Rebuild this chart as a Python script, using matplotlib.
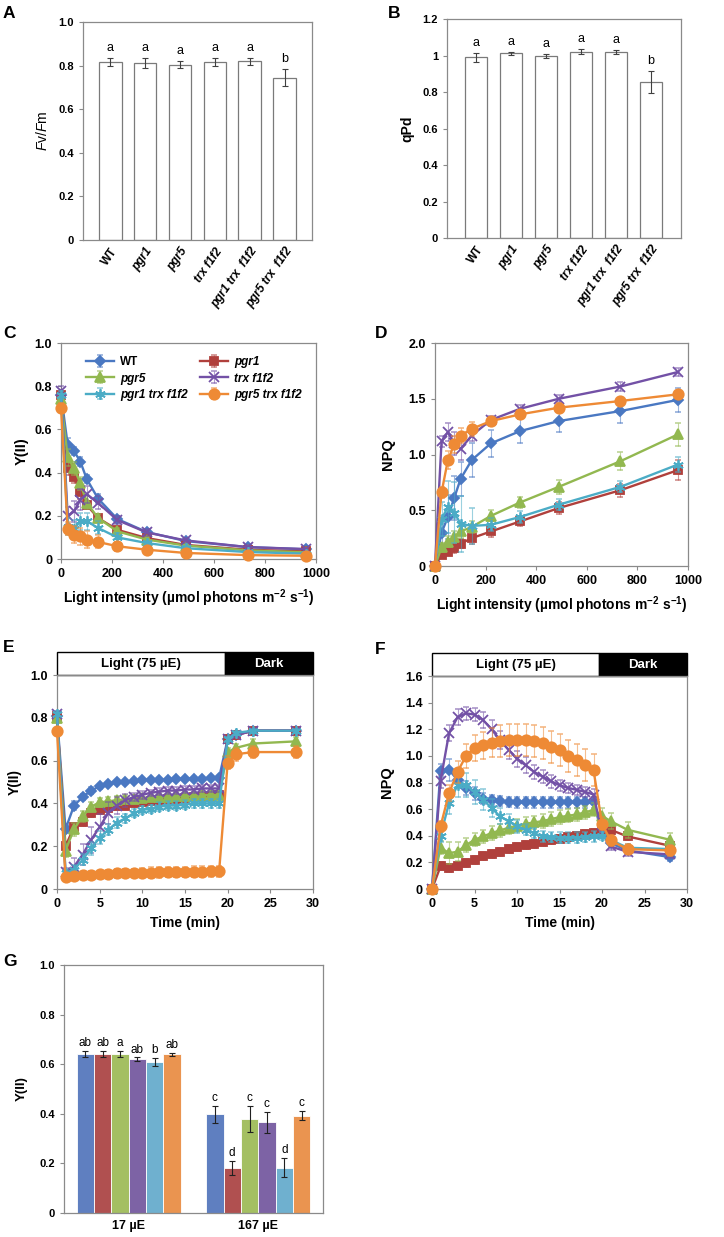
import matplotlib
matplotlib.use('Agg')
import matplotlib.pyplot as plt
import matplotlib.transforms as mtransforms
from matplotlib.colors import to_rgba
from matplotlib.patches import Rectangle
import numpy as np

plt.rcParams['font.family'] = ['Liberation Sans', 'DejaVu Sans']
plt.rcParams['mathtext.fontset'] = 'custom'
plt.rcParams['mathtext.rm'] = 'Liberation Sans:bold'
plt.rcParams['mathtext.it'] = 'Liberation Sans:italic'
plt.rcParams['mathtext.bf'] = 'Liberation Sans:bold'
plt.rcParams['mathtext.default'] = 'rm'

# ---- data ----
genotypes = ['WT', 'pgr1', 'pgr5', 'trx f1f2', 'pgr1 trx  f1f2', 'pgr5 trx  f1f2']
legend_names = ['WT', 'pgr1', 'pgr5', 'trx f1f2', 'pgr1 trx f1f2', 'pgr5 trx f1f2']

# A: Fv/Fm
fvfm = [0.817, 0.811, 0.805, 0.815, 0.820, 0.745]
fvfm_err = [0.018, 0.022, 0.016, 0.018, 0.016, 0.040]
fvfm_letters = ['a', 'a', 'a', 'a', 'a', 'b']

# B: qPd
qpd = [0.990, 1.013, 0.998, 1.022, 1.020, 0.856]
qpd_err = [0.024, 0.008, 0.010, 0.012, 0.010, 0.060]
qpd_letters = ['a', 'a', 'a', 'a', 'a', 'b']

# C / D: light curves
light = [0, 26, 51, 76, 101, 145, 221, 336, 489, 733, 960]
yii_light = [
    [0.76, 0.53, 0.50, 0.45, 0.37, 0.28, 0.185, 0.125, 0.083, 0.055, 0.045],
    [0.76, 0.42, 0.38, 0.31, 0.25, 0.19, 0.135, 0.097, 0.065, 0.043, 0.035],
    [0.74, 0.47, 0.42, 0.35, 0.26, 0.19, 0.128, 0.09, 0.062, 0.040, 0.031],
    [0.78, 0.20, 0.22, 0.275, 0.30, 0.26, 0.18, 0.123, 0.086, 0.055, 0.046],
    [0.76, 0.15, 0.14, 0.175, 0.175, 0.144, 0.10, 0.074, 0.05, 0.032, 0.025],
    [0.70, 0.14, 0.113, 0.105, 0.09, 0.079, 0.059, 0.043, 0.028, 0.018, 0.015],
]
yii_light_err = [
    [0.01, 0.03, 0.02, 0.02, 0.02, 0.02, 0.015, 0.01, 0.008, 0.005, 0.005],
    [0.02, 0.03, 0.03, 0.03, 0.02, 0.02, 0.015, 0.01, 0.008, 0.005, 0.005],
    [0.01, 0.04, 0.03, 0.03, 0.03, 0.02, 0.015, 0.01, 0.008, 0.005, 0.005],
    [0.02, 0.04, 0.05, 0.05, 0.04, 0.03, 0.02, 0.015, 0.01, 0.008, 0.006],
    [0.02, 0.04, 0.04, 0.04, 0.04, 0.03, 0.02, 0.01, 0.008, 0.005, 0.005],
    [0.02, 0.03, 0.04, 0.04, 0.04, 0.03, 0.02, 0.01, 0.008, 0.005, 0.005],
]
npq_light = [
    [0, 0.30, 0.44, 0.61, 0.78, 0.95, 1.10, 1.21, 1.30, 1.39, 1.49],
    [0, 0.10, 0.13, 0.16, 0.20, 0.25, 0.31, 0.40, 0.52, 0.68, 0.86],
    [0, 0.17, 0.22, 0.26, 0.31, 0.35, 0.45, 0.57, 0.71, 0.94, 1.18],
    [0, 1.12, 1.20, 1.10, 1.05, 1.17, 1.31, 1.41, 1.50, 1.61, 1.74],
    [0, 0.42, 0.53, 0.48, 0.38, 0.36, 0.37, 0.44, 0.55, 0.71, 0.91],
    [0, 0.66, 0.95, 1.09, 1.17, 1.23, 1.30, 1.36, 1.42, 1.48, 1.54],
]
npq_light_err = [
    [0, 0.15, 0.20, 0.20, 0.15, 0.15, 0.12, 0.11, 0.10, 0.11, 0.11],
    [0, 0.03, 0.03, 0.04, 0.04, 0.05, 0.05, 0.04, 0.05, 0.06, 0.09],
    [0, 0.04, 0.05, 0.05, 0.06, 0.05, 0.05, 0.05, 0.06, 0.08, 0.10],
    [0, 0.05, 0.08, 0.10, 0.10, 0.05, 0.04, 0.03, 0.03, 0.04, 0.04],
    [0, 0.15, 0.23, 0.27, 0.25, 0.16, 0.06, 0.05, 0.05, 0.05, 0.07],
    [0, 0.05, 0.08, 0.08, 0.07, 0.06, 0.04, 0.04, 0.04, 0.03, 0.03],
]

# E / F: induction time course
time_min = [0, 1, 2, 3, 4, 5, 6, 7, 8, 9, 10, 11, 12, 13, 14, 15, 16, 17, 18, 19,
            20, 21, 23, 28]
light_end = 19.7
yii_time = [
    [0.81, 0.28, 0.39, 0.43, 0.46, 0.48, 0.49, 0.50, 0.50, 0.505, 0.51, 0.51, 0.51, 0.51,
     0.515, 0.515, 0.515, 0.515, 0.52, 0.52, 0.70, 0.72, 0.74, 0.74],
    [0.81, 0.20, 0.29, 0.315, 0.355, 0.37, 0.38, 0.386, 0.39, 0.40, 0.405, 0.41, 0.415, 0.42,
     0.42, 0.425, 0.43, 0.43, 0.435, 0.44, 0.70, 0.72, 0.74, 0.74],
    [0.80, 0.18, 0.28, 0.34, 0.385, 0.405, 0.41, 0.415, 0.42, 0.42, 0.425, 0.43, 0.43, 0.43,
     0.435, 0.435, 0.435, 0.44, 0.44, 0.44, 0.64, 0.66, 0.68, 0.69],
    [0.82, 0.08, 0.105, 0.16, 0.23, 0.29, 0.355, 0.39, 0.415, 0.43, 0.44, 0.45, 0.455, 0.46,
     0.46, 0.465, 0.465, 0.47, 0.47, 0.47, 0.70, 0.72, 0.74, 0.74],
    [0.82, 0.075, 0.09, 0.137, 0.19, 0.24, 0.277, 0.31, 0.33, 0.355, 0.37, 0.375, 0.385, 0.39,
     0.39, 0.395, 0.40, 0.40, 0.40, 0.40, 0.70, 0.73, 0.74, 0.74],
    [0.74, 0.055, 0.06, 0.065, 0.067, 0.07, 0.072, 0.073, 0.074, 0.075, 0.076, 0.077, 0.078,
     0.079, 0.08, 0.08, 0.081, 0.081, 0.082, 0.082, 0.59, 0.63, 0.64, 0.64],
]
yii_time_err = [
    [0.01, 0.02, 0.02, 0.015, 0.015, 0.012, 0.01, 0.01, 0.01, 0.01, 0.01, 0.01, 0.01, 0.01,
     0.01, 0.01, 0.01, 0.01, 0.01, 0.01, 0.01, 0.01, 0.01, 0.01],
    [0.01, 0.02, 0.02, 0.02, 0.02, 0.015, 0.015, 0.015, 0.015, 0.015, 0.015, 0.015, 0.015,
     0.015, 0.015, 0.015, 0.015, 0.015, 0.015, 0.015, 0.01, 0.01, 0.01, 0.01],
    [0.01, 0.03, 0.03, 0.025, 0.02, 0.02, 0.02, 0.02, 0.02, 0.02, 0.02, 0.02, 0.02, 0.02,
     0.02, 0.02, 0.02, 0.02, 0.02, 0.02, 0.02, 0.02, 0.02, 0.02],
    [0.01, 0.02, 0.04, 0.05, 0.06, 0.06, 0.05, 0.04, 0.03, 0.02, 0.02, 0.015, 0.015, 0.015,
     0.015, 0.015, 0.015, 0.015, 0.015, 0.015, 0.01, 0.01, 0.01, 0.01],
    [0.01, 0.015, 0.02, 0.025, 0.03, 0.03, 0.025, 0.025, 0.02, 0.02, 0.02, 0.02, 0.02, 0.02,
     0.02, 0.02, 0.02, 0.02, 0.02, 0.02, 0.01, 0.01, 0.01, 0.01],
    [0.01, 0.01, 0.01, 0.01, 0.015, 0.015, 0.015, 0.02, 0.02, 0.02, 0.02, 0.025, 0.025,
     0.025, 0.025, 0.025, 0.025, 0.025, 0.025, 0.025, 0.03, 0.03, 0.03, 0.03],
]
npq_time = [
    [0, 0.89, 0.895, 0.82, 0.76, 0.72, 0.68, 0.67, 0.66, 0.655, 0.65, 0.65, 0.65, 0.65,
     0.65, 0.65, 0.65, 0.65, 0.65, 0.65, 0.42, 0.345, 0.29, 0.24],
    [0, 0.17, 0.16, 0.17, 0.195, 0.22, 0.245, 0.265, 0.28, 0.30, 0.315, 0.33, 0.34, 0.35,
     0.365, 0.375, 0.39, 0.40, 0.41, 0.42, 0.43, 0.445, 0.395, 0.325],
    [0, 0.31, 0.27, 0.28, 0.33, 0.37, 0.395, 0.42, 0.44, 0.46, 0.475, 0.49, 0.50, 0.51,
     0.525, 0.54, 0.55, 0.56, 0.575, 0.595, 0.55, 0.51, 0.445, 0.37],
    [0, 0.81, 1.17, 1.29, 1.32, 1.31, 1.27, 1.20, 1.12, 1.045, 0.98, 0.93, 0.88, 0.845,
     0.81, 0.78, 0.76, 0.745, 0.73, 0.71, 0.42, 0.32, 0.28, 0.26],
    [0, 0.40, 0.645, 0.78, 0.78, 0.73, 0.67, 0.61, 0.545, 0.51, 0.47, 0.445, 0.42, 0.395,
     0.39, 0.385, 0.385, 0.385, 0.39, 0.395, 0.40, 0.37, 0.31, 0.30],
    [0, 0.47, 0.72, 0.88, 1.00, 1.06, 1.08, 1.10, 1.11, 1.12, 1.12, 1.12, 1.11, 1.095,
     1.07, 1.045, 1.00, 0.97, 0.93, 0.895, 0.49, 0.365, 0.30, 0.29],
]
npq_time_err = [
    [0, 0.05, 0.08, 0.06, 0.05, 0.05, 0.04, 0.04, 0.04, 0.04, 0.04, 0.04, 0.04, 0.04,
     0.04, 0.04, 0.04, 0.04, 0.04, 0.04, 0.03, 0.03, 0.03, 0.03],
    [0, 0.03, 0.03, 0.03, 0.03, 0.03, 0.03, 0.03, 0.03, 0.03, 0.03, 0.03, 0.03, 0.03,
     0.03, 0.03, 0.03, 0.03, 0.03, 0.03, 0.03, 0.03, 0.03, 0.03],
    [0, 0.05, 0.08, 0.07, 0.05, 0.05, 0.05, 0.05, 0.05, 0.05, 0.05, 0.05, 0.05, 0.05,
     0.05, 0.05, 0.05, 0.05, 0.05, 0.05, 0.06, 0.06, 0.06, 0.05],
    [0, 0.05, 0.06, 0.06, 0.05, 0.05, 0.06, 0.07, 0.07, 0.07, 0.06, 0.06, 0.05, 0.05,
     0.05, 0.04, 0.04, 0.04, 0.04, 0.04, 0.03, 0.03, 0.03, 0.03],
    [0, 0.05, 0.08, 0.09, 0.09, 0.09, 0.08, 0.07, 0.06, 0.05, 0.05, 0.04, 0.04, 0.04,
     0.04, 0.04, 0.04, 0.04, 0.04, 0.04, 0.03, 0.03, 0.03, 0.03],
    [0, 0.04, 0.06, 0.08, 0.09, 0.1, 0.1, 0.11, 0.12, 0.12, 0.12, 0.12, 0.12, 0.12,
     0.12, 0.12, 0.12, 0.12, 0.12, 0.12, 0.05, 0.04, 0.04, 0.04],
]

# G: steady state Y(II)
g_groups = ['17 µE', '167 µE']
g_low = [0.643, 0.640, 0.642, 0.619, 0.610, 0.640]
g_low_err = [0.012, 0.012, 0.013, 0.008, 0.016, 0.006]
g_low_letters = ['ab', 'ab', 'a', 'ab', 'b', 'ab']
g_high = [0.398, 0.182, 0.378, 0.366, 0.183, 0.393]
g_high_err = [0.035, 0.028, 0.052, 0.043, 0.037, 0.018]
g_high_letters = ['c', 'd', 'c', 'c', 'd', 'c']

# ---- style ----
line_colors = ['#4A78C2', '#B0403C', '#92B850', '#7351A6', '#4BACC6', '#EE8A35']
bar_colors = ['#5F7FC0', '#B05050', '#A4BF62', '#7D63A5', '#6FB0CF', '#EA9450']
markers = ['D', 's', '^', 'x', (6, 2, 0), 'o']
msizes = [5.5, 6, 6.5, 7, 7.5, 7.5]
spine_col = '#8a8a8a'


def frame(ax):
    for s in ax.spines.values():
        s.set_color(spine_col)
        s.set_linewidth(0.9)
    ax.tick_params(colors=spine_col, labelcolor='black', length=3, width=0.8,
                   direction='out')


def fmt(v):
    if v == 0:
        return '0'
    return '%.1f' % v


def bar_panel(ax, vals, errs, letters, xlim, ymax, ystep, ylabels, ylabel):
    x = np.arange(len(vals))
    ax.bar(x, vals, width=0.65, color='white', edgecolor='#7a7a7a', linewidth=0.9)
    ax.errorbar(x, vals, yerr=errs, fmt='none', ecolor='#404040', elinewidth=0.8,
                capsize=2.5, capthick=0.8)
    for xi, v, e, l in zip(x, vals, errs, letters):
        ax.text(xi, v + e + 0.018 * ymax, l, ha='center', va='bottom', fontsize=9)
    ax.set_xlim(*xlim)
    ax.set_ylim(0, ymax)
    yt = np.arange(0, ymax + 1e-9, ystep)
    ax.set_yticks(yt, ylabels, fontsize=8, fontweight='bold')
    ax.set_xticks(x, genotypes, rotation=55, ha='right', rotation_mode='anchor',
                  fontsize=8.5, fontweight='bold')
    for lab, g in zip(ax.get_xticklabels(), genotypes):
        if g != 'WT':
            lab.set_fontstyle('italic')
    ax.tick_params(axis='x', length=0, pad=4)
    ax.set_ylabel(ylabel, fontsize=10, labelpad=6)


def line_panel(ax, x, ys, errs, first_zorder=2):
    handles = []
    for i in range(6):
        c = line_colors[i]
        h = ax.errorbar(x, ys[i], yerr=errs[i], color=c, marker=markers[i], ms=msizes[i],
                        mew=1.3, lw=1.7, ecolor=to_rgba(c, 0.55), elinewidth=0.8,
                        capsize=2, capthick=0.8, label=legend_names[i],
                        zorder=first_zorder + i, clip_on=False)
        handles.append(h)
    return handles


def header(ax, xmax):
    tr = mtransforms.blended_transform_factory(ax.transData, ax.transAxes)
    h = 0.107
    ax.add_patch(Rectangle((0, 1.0), light_end, h, transform=tr, facecolor='white',
                           edgecolor='black', lw=1, clip_on=False))
    ax.add_patch(Rectangle((light_end, 1.0), xmax - light_end, h, transform=tr,
                           facecolor='black', edgecolor='black', lw=1, clip_on=False))
    ax.text(light_end / 2, 1.0 + h / 2, 'Light (75 µE)', transform=tr, ha='center',
            va='center', fontsize=9.5, fontweight='bold')
    ax.text((light_end + xmax) / 2, 1.0 + h / 2, 'Dark', transform=tr, ha='center',
            va='center', fontsize=9.5, fontweight='bold', color='white')


fig = plt.figure(figsize=(7.24, 12.37), dpi=100)

# ---- A ----
axA = fig.add_axes([0.1146, 0.806, 0.3163, 0.1762])
frame(axA)
bar_panel(axA, fvfm, fvfm_err, fvfm_letters, (-0.78, 5.78), 1.0, 0.2,
          ['0', '0.2', '0.4', '0.6', '0.8', '1.0'], r'$\mathit{F}$v/$\mathit{F}$m')

# ---- B ----
axB = fig.add_axes([0.6174, 0.8076, 0.3232, 0.177])
frame(axB)
bar_panel(axB, qpd, qpd_err, qpd_letters, (-0.83, 5.86), 1.2, 0.2,
          ['0', '0.2', '0.4', '0.6', '0.8', '1', '1.2'], 'qPd')
axB.yaxis.label.set_fontweight('bold')

# ---- C ----
axC = fig.add_axes([0.0843, 0.5481, 0.3522, 0.1746])
frame(axC)
hC = line_panel(axC, light, yii_light, yii_light_err)
axC.set_xlim(0, 1000)
axC.set_ylim(0, 1.0)
axC.set_xticks(range(0, 1001, 200), [str(v) for v in range(0, 1001, 200)],
               fontsize=9, fontweight='bold')
axC.set_yticks(np.arange(0, 1.01, 0.2), [fmt(v) for v in np.arange(0, 1.01, 0.2)],
               fontsize=9, fontweight='bold')
axC.set_ylabel('Y(II)', fontsize=10.5, fontweight='bold', labelpad=4)
axC.set_xlabel(r'Light intensity (µmol photons m$^{-2}$ s$^{-1}$)', fontsize=10,
               fontweight='bold', labelpad=5)
order = [0, 2, 4, 1, 3, 5]
leg = axC.legend([hC[i] for i in order], [legend_names[i] for i in order], ncol=2,
                 loc='upper left', bbox_to_anchor=(0.08, 0.96), frameon=False,
                 fontsize=8.5, handlelength=2.4, columnspacing=1.0, labelspacing=0.35,
                 handletextpad=0.5, borderaxespad=0)
for t in leg.get_texts():
    t.set_fontweight('bold')
    if t.get_text() != 'WT':
        t.set_fontstyle('italic')

# ---- D ----
axD = fig.add_axes([0.6008, 0.5424, 0.3494, 0.1803])
frame(axD)
line_panel(axD, light, npq_light, npq_light_err)
axD.set_xlim(0, 1000)
axD.set_ylim(0, 2.0)
axD.set_xticks(range(0, 1001, 200), [str(v) for v in range(0, 1001, 200)],
               fontsize=9, fontweight='bold')
axD.set_yticks(np.arange(0, 2.01, 0.5), [fmt(v) for v in np.arange(0, 2.01, 0.5)],
               fontsize=9, fontweight='bold')
axD.set_ylabel('NPQ', fontsize=10.5, fontweight='bold', labelpad=10)
axD.set_xlabel(r'Light intensity (µmol photons m$^{-2}$ s$^{-1}$)', fontsize=10,
               fontweight='bold', labelpad=5)

# ---- E ----
axE = fig.add_axes([0.0787, 0.2813, 0.3536, 0.1730])
frame(axE)
line_panel(axE, time_min, yii_time, yii_time_err)
axE.set_xlim(0, 30)
axE.set_ylim(0, 1.0)
axE.set_xticks(range(0, 31, 5), [str(v) for v in range(0, 31, 5)],
               fontsize=9, fontweight='bold')
axE.set_yticks(np.arange(0, 1.01, 0.2), [fmt(v) for v in np.arange(0, 1.01, 0.2)],
               fontsize=9, fontweight='bold')
axE.set_ylabel('Y(II)', fontsize=10, fontweight='bold', labelpad=6)
axE.set_xlabel('Time (min)', fontsize=10, fontweight='bold', labelpad=4)
header(axE, 30)

# ---- F ----
axF = fig.add_axes([0.5967, 0.2813, 0.3522, 0.1722])
frame(axF)
line_panel(axF, time_min, npq_time, npq_time_err)
axF.set_xlim(0, 30)
axF.set_ylim(0, 1.6)
axF.set_xticks(range(0, 31, 5), [str(v) for v in range(0, 31, 5)],
               fontsize=9, fontweight='bold')
axF.set_yticks(np.arange(0, 1.61, 0.2), [fmt(v) for v in np.arange(0, 1.61, 0.2)],
               fontsize=9, fontweight='bold')
axF.set_ylabel('NPQ', fontsize=10.5, fontweight='bold', labelpad=8)
axF.set_xlabel('Time (min)', fontsize=10, fontweight='bold', labelpad=4)
header(axF, 30)

# ---- G ----
axG = fig.add_axes([0.0884, 0.0194, 0.3577, 0.2005])
frame(axG)
w = 0.134
for gi, (vals, errs, lets) in enumerate([(g_low, g_low_err, g_low_letters),
                                         (g_high, g_high_err, g_high_letters)]):
    for i in range(6):
        xi = gi + (i - 2.5) * w
        axG.bar(xi, vals[i], width=w, color=bar_colors[i], edgecolor='white', linewidth=0.6)
        axG.errorbar(xi, vals[i], yerr=errs[i], fmt='none', ecolor='#202020',
                     elinewidth=0.8, capsize=2.2, capthick=0.8)
        axG.text(xi, vals[i] + errs[i] + 0.008, lets[i], ha='center', va='bottom',
                 fontsize=8.5)
axG.set_xlim(-0.5, 1.5)
axG.set_ylim(0, 1.0)
axG.set_xticks([0, 1], g_groups, fontsize=9, fontweight='bold')
axG.tick_params(axis='x', length=0, pad=5)
axG.set_yticks(np.arange(0, 1.01, 0.2), [fmt(v) for v in np.arange(0, 1.01, 0.2)],
               fontsize=8, fontweight='bold')
axG.set_ylabel('Y(II)', fontsize=9.5, fontweight='bold', labelpad=8)

# ---- panel letters ----
for lab, px, py in [('A', 3, 13), ('B', 388, 13), ('C', 3, 333), ('D', 375, 333),
                    ('E', 3, 647), ('F', 375, 649), ('G', 3, 962)]:
    fig.text(px / 724, 1 - py / 1237, lab, fontsize=12.5, fontweight='bold',
             ha='left', va='center')

fig.savefig('out.png', dpi=100)
